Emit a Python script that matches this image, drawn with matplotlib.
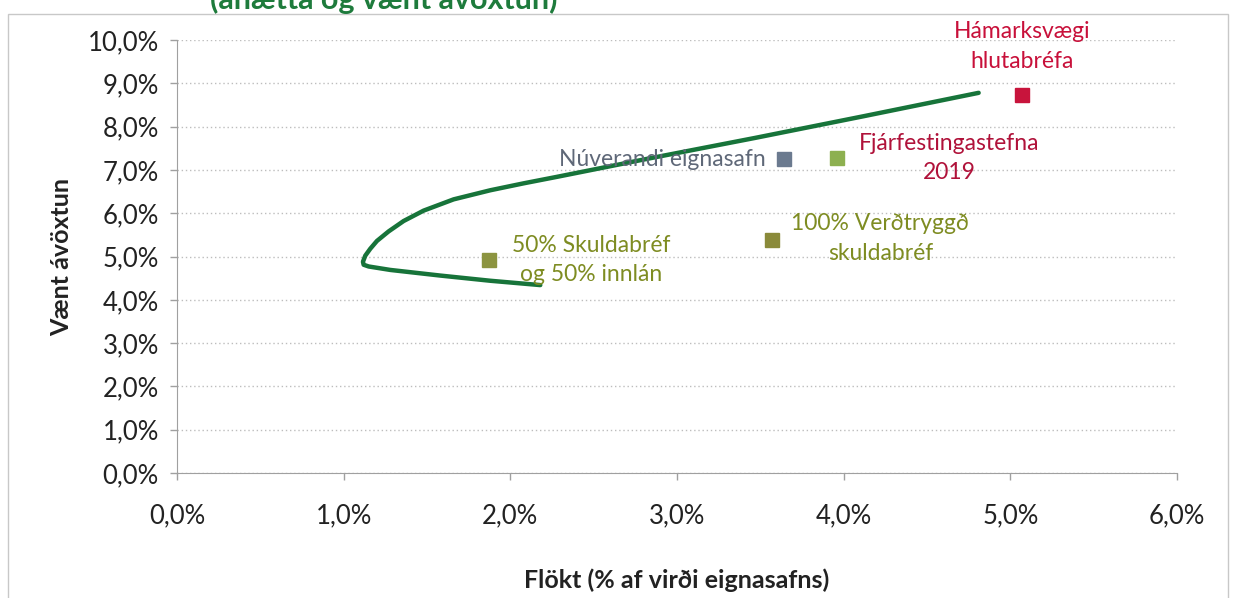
import matplotlib.pyplot as plt
from matplotlib.patches import Rectangle
from matplotlib.ticker import FuncFormatter

plt.rcParams['font.family'] = ['Lato', 'DejaVu Sans']

# efficient frontier (volatility %, expected return %)
frontier_x = [2.18, 1.88, 1.58, 1.28, 1.15, 1.12, 1.116, 1.13, 1.16, 1.20, 1.27, 1.36,
              1.48, 1.66, 1.88, 2.08, 2.28, 2.84, 3.47, 4.12, 4.81]
frontier_y = [4.34, 4.44, 4.56, 4.69, 4.77, 4.81, 4.88, 5.02, 5.18, 5.36, 5.58, 5.82,
              6.06, 6.32, 6.53, 6.69, 6.84, 7.27, 7.74, 8.24, 8.78]

labels = ["Hámarksvægi\nhlutabréfa", "Núverandi eignasafn", "Fjárfestingastefna\n2019",
          "100% Verðtryggð\nskuldabréf", "50% Skuldabréf\nog 50% innlán"]
point_x = [5.07, 3.64, 3.96, 3.57, 1.87]
point_y = [8.73, 7.25, 7.27, 5.38, 4.92]
marker_colors = ["#C8143C", "#6B7A8F", "#8DB050", "#8A8A3A", "#8C9440"]
text_colors = ["#C8103A", "#5F6878", "#B0123A", "#7E8C22", "#7E8C22"]
# (dx, dy, ha) in points
offsets = [(0, 35, 'center'), (-13, 0, 'right'), (16, 0, 'left'), (14, 1, 'left'), (17, 0, 'left')]

x_ticks = [0, 1, 2, 3, 4, 5, 6]
y_ticks = [0, 1, 2, 3, 4, 5, 6, 7, 8, 9, 10]

fig = plt.figure(figsize=(12.34, 5.98), dpi=100)
ax = fig.add_axes([0.1434, 0.2090, 0.8104, 0.7241])

fig.patches.append(Rectangle((0.0065, -0.1), 0.9885, 1.076, transform=fig.transFigure,
                             fill=False, edgecolor="#C8C8C8", linewidth=1))
fig.text(0.170, 0.985, "(áhætta og vænt ávöxtun)", color="#1E7B3C", fontsize=22,
         fontweight='bold', va='baseline', ha='left')

ax.plot(frontier_x, frontier_y, color="#17743A", linewidth=3.2, solid_capstyle='round',
        solid_joinstyle='round', zorder=3)

for lab, px, py, mc, tc, (dx, dy, ha) in zip(labels, point_x, point_y, marker_colors,
                                              text_colors, offsets):
    ax.plot(px, py, marker='s', markersize=10, color=mc, linestyle='none', zorder=4)
    ax.annotate(lab, (px, py), xytext=(dx, dy), textcoords='offset points', ha=ha,
                va='center', multialignment='center', color=tc, fontsize=16.5,
                linespacing=1.5, zorder=5)

ax.set_xlim(0, 6)
ax.set_ylim(0, 10)
ax.set_xticks(x_ticks)
ax.set_yticks(y_ticks)
pct = FuncFormatter(lambda v, p: f"{v:.1f}%".replace(".", ","))
ax.xaxis.set_major_formatter(pct)
ax.yaxis.set_major_formatter(pct)
ax.tick_params(axis='both', labelsize=18.5, colors="#A0A0A0", labelcolor="#222222",
               length=5, width=1)
ax.tick_params(axis='x', pad=17)
ax.tick_params(axis='y', pad=8)

ax.grid(axis='y', linestyle=(0, (1, 2)), color="#BDBDBD", linewidth=1)
ax.set_axisbelow(True)
for side in ['top', 'right']:
    ax.spines[side].set_visible(False)
for side in ['left', 'bottom']:
    ax.spines[side].set_color("#A0A0A0")

ax.set_xlabel("Flökt (% af virði eignasafns)", fontsize=18, fontweight='bold',
              color="#222222", va='center')
ax.xaxis.set_label_coords(0.5, -0.247)
ax.set_ylabel("Vænt ávöxtun", fontsize=18, fontweight='bold', color="#222222",
              va='center')
ax.yaxis.set_label_coords(-0.115, 0.5)

fig.savefig("out.png", dpi=100)
